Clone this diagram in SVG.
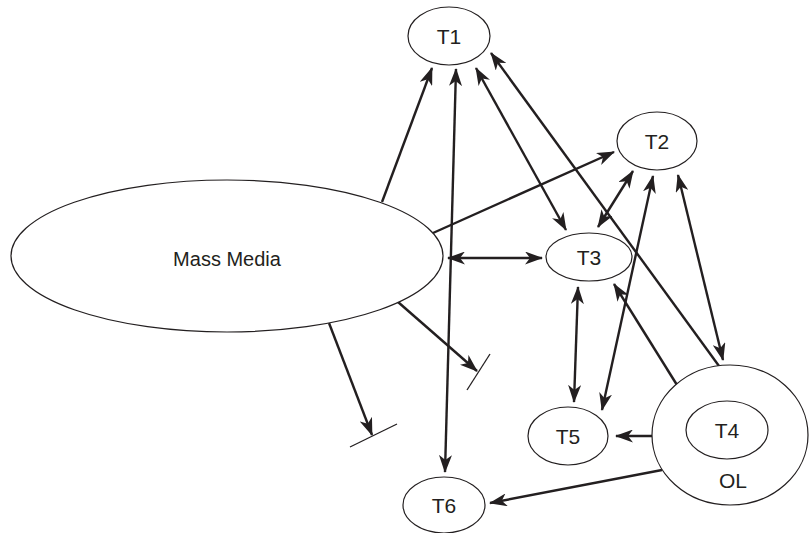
<svg xmlns="http://www.w3.org/2000/svg" width="809" height="533" viewBox="0 0 809 533">
<defs>
<style>
.node{fill:#fff;stroke:#231f20;stroke-width:1.2}
.lbl{font-family:"Liberation Sans",Arial,sans-serif;font-size:21px;fill:#231f20;text-anchor:middle}
.mm{font-size:20px}
.c{stroke:#231f20;stroke-width:2.4;fill:none}
.one{marker-end:url(#ah)}
.two{marker-start:url(#ah);marker-end:url(#ah)}
.bar{stroke:#231f20;stroke-width:1.3}
</style>
<marker id="ah" viewBox="0 0 18 13" refX="17" refY="6.5" markerWidth="18" markerHeight="13" markerUnits="userSpaceOnUse" orient="auto-start-reverse">
<path d="M0,0 L18,6.5 L0,13 L5,6.5 z" fill="#231f20"/>
</marker>
</defs>
<rect width="809" height="533" fill="#fff"/>
<g id="connectors">
<line class="c one" x1="382" y1="202" x2="432" y2="68"/>
<line class="c two" x1="456" y1="69" x2="445" y2="472"/>
<line class="c two" x1="476" y1="68" x2="566" y2="230"/>
<line class="c one" x1="719" y1="366" x2="491" y2="53"/>
<line class="c one" x1="433" y1="233" x2="614" y2="152"/>
<line class="c two" x1="633" y1="171" x2="598" y2="227"/>
<line class="c two" x1="448" y1="258" x2="542" y2="258"/>
<line class="c two" x1="578" y1="287" x2="574" y2="402"/>
<line class="c two" x1="653" y1="176" x2="602" y2="410"/>
<line class="c two" x1="678" y1="175" x2="723" y2="360"/>
<line class="c one" x1="677" y1="385" x2="614" y2="284"/>
<line class="c one" x1="652" y1="436" x2="616" y2="436"/>
<line class="c one" x1="662" y1="470" x2="490" y2="503"/>
<line class="c one" x1="398" y1="302" x2="477" y2="371"/>
<line class="bar" x1="467" y1="390" x2="490" y2="354"/>
<line class="c one" x1="329" y1="323" x2="372" y2="435"/>
<line class="bar" x1="350" y1="447" x2="397" y2="424"/>
</g>
<g id="mass-media">
<ellipse class="node" cx="227" cy="256" rx="216" ry="76"/>
<text class="lbl mm" x="227" y="266">Mass Media</text>
</g>
<g id="T1">
<ellipse class="node" cx="449" cy="36" rx="41" ry="29"/>
<text class="lbl" x="449" y="44">T1</text>
</g>
<g id="T2">
<ellipse class="node" cx="657" cy="141" rx="40" ry="29"/>
<text class="lbl" x="657" y="149">T2</text>
</g>
<g id="T3">
<ellipse class="node" cx="589" cy="257" rx="43" ry="24"/>
<text class="lbl" x="589" y="265">T3</text>
</g>
<g id="T5">
<ellipse class="node" cx="568" cy="436" rx="40" ry="29"/>
<text class="lbl" x="568" y="444">T5</text>
</g>
<g id="OL">
<ellipse class="node" cx="730" cy="435" rx="78" ry="70"/>
<text class="lbl" x="733" y="488">OL</text>
</g>
<g id="T4">
<ellipse class="node" cx="727" cy="430" rx="41" ry="29"/>
<text class="lbl" x="727" y="438">T4</text>
</g>
<g id="T6">
<ellipse class="node" cx="444" cy="505" rx="41" ry="28"/>
<text class="lbl" x="444" y="513">T6</text>
</g>
</svg>
